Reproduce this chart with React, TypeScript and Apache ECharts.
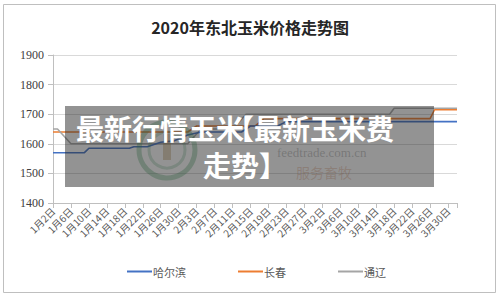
import React, { useEffect, useRef } from "react";
import * as echarts from "echarts";

const TITLE = "2020年东北玉米价格走势图";
const tickLabels = [
  "1月2日", "1月6日", "1月10日", "1月14日", "1月18日", "1月22日", "1月26日", "1月30日",
  "2月3日", "2月7日", "2月11日", "2月15日", "2月19日", "2月23日", "2月27日",
  "3月2日", "3月6日", "3月10日", "3月14日", "3月18日", "3月22日", "3月26日", "3月30日",
];
const seriesNames = ["哈尔滨", "长春", "通辽"];
const seriesColors = ["#4472C4", "#ED7D31", "#A5A5A5"];
// [day index from 1月2日, price]
const harbin = [
  [0, 1570], [7, 1570], [8, 1585], [17, 1585], [18, 1590], [21, 1590], [24, 1605],
  [27, 1610], [30, 1630], [33, 1640], [42, 1640], [44, 1660], [50, 1660], [52, 1675], [90, 1675],
];
const changchun = [
  [0, 1640], [30, 1640], [32, 1660], [45, 1660], [47, 1685], [84, 1685], [85, 1715], [90, 1715],
];
const tongliao = [
  [0, 1650], [1, 1650], [4, 1600], [30, 1600], [33, 1650], [40, 1650], [43, 1700],
  [75, 1700], [76, 1720], [90, 1720],
];
const overlayLine1a = "最新行情玉米";
const overlayLine1b = "【最新玉米费";
const overlayLine2 = "走势】";
const watermarkUrl = "feedtrade.com.cn";
const watermarkSlogan = "服务畜牧";

export default function App() {
  const ref = useRef<HTMLDivElement>(null);
  useEffect(() => {
    if (!ref.current) return;
    const chart = echarts.init(ref.current, null, { renderer: "svg" });
    const cjk = '"Noto Sans CJK SC", sans-serif';
    const serif = '"Liberation Serif", "DejaVu Serif", serif';
    const datasets = [harbin, changchun, tongliao];
    chart.setOption({
      animation: false,
      backgroundColor: "#ffffff",
      title: {
        text: TITLE,
        left: "center",
        top: 14,
        textStyle: { fontFamily: cjk, fontSize: 16, fontWeight: "bold", color: "#262626" },
      },
      grid: { left: 53, right: 43, top: 55, bottom: 92, containLabel: false },
      legend: {
        left: 122,
        top: 261,
        itemWidth: 25,
        itemHeight: 2,
        itemGap: 52,
        icon: "rect",
        textStyle: { fontFamily: cjk, fontSize: 11, color: "#595959", padding: [0, 0, 0, -4] },
        data: seriesNames,
      },
      xAxis: {
        type: "value",
        min: 0,
        max: 90,
        interval: 4,
        axisLine: { show: true, lineStyle: { color: "#bfbfbf" } },
        axisTick: { show: true, length: 5, lineStyle: { color: "#bfbfbf" } },
        splitLine: { show: false },
        axisLabel: {
          rotate: 45,
          fontFamily: cjk,
          fontSize: 10,
          color: "#595959",
          margin: 6,
          showMinLabel: true,
          showMaxLabel: true,
          formatter: (v: number) => tickLabels[v / 4] ?? "",
        },
      },
      yAxis: {
        type: "value",
        min: 1400,
        max: 1900,
        interval: 100,
        axisLine: { show: true, lineStyle: { color: "#bfbfbf" } },
        axisTick: { show: true, length: 5, lineStyle: { color: "#bfbfbf" } },
        splitLine: { show: true, lineStyle: { color: "#d9d9d9" } },
        axisLabel: {
          fontFamily: serif,
          fontSize: 12,
          color: "#404040",
          margin: 9,
          formatter: (v: number) => String(v),
        },
      },
      series: seriesNames.map((name, i) => ({
        name,
        type: "line",
        data: datasets[i],
        symbol: "none",
        color: seriesColors[i],
        lineStyle: { width: 1.6, color: seriesColors[i] },
        z: i === 0 ? 4 : 3,
      })),
      graphic: [
        {
          type: "rect",
          shape: { x: 3.5, y: 4.5, width: 492, height: 288 },
          style: { fill: "none", stroke: "#bfbfbf", lineWidth: 1 },
          z: 1,
        },
        {
          type: "circle",
          shape: { cx: 167, cy: 150, r: 28 },
          style: { fill: "none", stroke: "rgba(60,150,90,0.35)", lineWidth: 5 },
          z: 40,
        },
        {
          type: "circle",
          shape: { cx: 167, cy: 150, r: 18 },
          style: { fill: "none", stroke: "rgba(60,150,90,0.25)", lineWidth: 3 },
          z: 40,
        },
        {
          type: "rect",
          shape: { x: 163, y: 134, width: 8, height: 26 },
          style: { fill: "rgba(170,130,60,0.35)" },
          z: 40,
        },
        {
          type: "text",
          x: 277,
          y: 152,
          style: {
            text: watermarkUrl,
            font: '13px "Liberation Serif", serif',
            fill: "rgba(90,90,90,0.35)",
            textVerticalAlign: "middle",
          },
          z: 40,
        },
        {
          type: "text",
          x: 296,
          y: 172,
          style: {
            text: watermarkSlogan,
            font: '14px "Noto Sans CJK SC", sans-serif',
            fill: "rgba(200,110,60,0.3)",
            textVerticalAlign: "middle",
          },
          z: 40,
        },
        {
          type: "rect",
          shape: { x: 65, y: 106, width: 369, height: 81 },
          style: { fill: "rgba(40,40,40,0.5)" },
          z: 50,
        },
        {
          type: "text",
          x: 76,
          y: 128,
          style: {
            text: overlayLine1a,
            font: 'bold 28px "Noto Sans CJK SC", sans-serif',
            fill: "#ffffff",
            textVerticalAlign: "middle",
          },
          z: 60,
        },
        {
          type: "text",
          x: 394,
          y: 128,
          style: {
            text: overlayLine1b,
            font: 'bold 28px "Noto Sans CJK SC", sans-serif',
            fill: "#ffffff",
            textAlign: "right",
            textVerticalAlign: "middle",
          },
          z: 60,
        },
        {
          type: "text",
          x: 203,
          y: 165,
          style: {
            text: overlayLine2,
            font: 'bold 28px "Noto Sans CJK SC", sans-serif',
            fill: "#ffffff",
            textVerticalAlign: "middle",
          },
          z: 60,
        },
      ],
    });
    return () => chart.dispose();
  }, []);
  return (
    <div
      ref={ref}
      style={{ position: "absolute", left: 0, top: 0, width: 500, height: 295 }}
    />
  );
}
